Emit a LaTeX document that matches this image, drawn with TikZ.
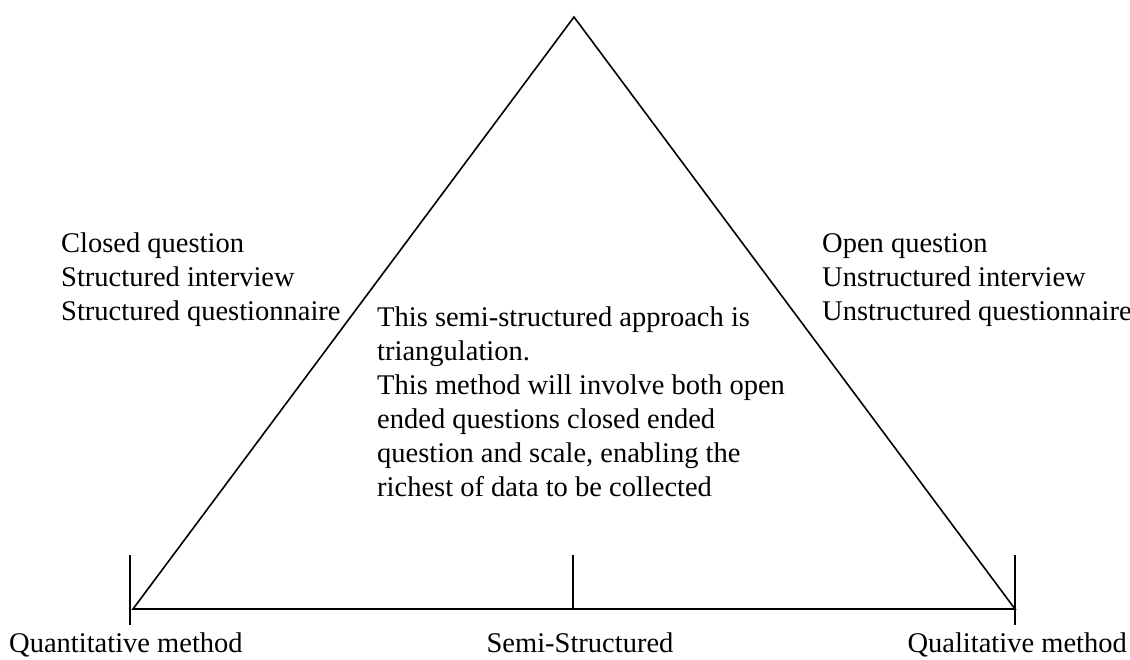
\documentclass[tikz,border=0pt]{standalone}
\usepackage{fontspec}
\setmainfont{Liberation Serif}
\usetikzlibrary{calc}
\tikzset{
  edge/.style={line width=1.6pt, color=black},
  lbl/.style={inner sep=0pt, align=left, font=\fontsize{28.5}{34}\selectfont}
}

\begin{document}
\begin{tikzpicture}[x=1pt, y=-1pt]
			%%%%% START %%%%%
			\useasboundingbox (0, 0) rectangle (1130, 659);
			
			\coordinate (apex) at (574, 17);
			\coordinate (baseL) at (133, 609);
			\coordinate (baseR) at (1015, 609);
			\coordinate (baseM) at (573, 609);
			
			\draw[edge, line join=miter] (apex) -- (baseL) -- (baseR) -- cycle;
			
			\coordinate (tickLtop) at (130, 555);
			\coordinate (tickLbot) at (130, 625);
			\coordinate (tickMtop) at (573, 555);
			\coordinate (tickRtop) at (1015, 555);
			\coordinate (tickRbot) at (1015, 625);
			\draw[edge] (tickLtop) -- (tickLbot);
			\draw[edge] (tickMtop) -- (baseM);
			\draw[edge] (tickRtop) -- (tickRbot);
			
			\node[lbl, anchor=north west] (closed) at (61, 233) {Closed question\\Structured interview\\Structured questionnaire};
			\node[lbl, anchor=north west] (open) at (822, 233) {Open question\\Unstructured interview\\Unstructured questionnaire};
			\node[lbl, anchor=north west] (semitext) at (377, 307) {This semi-structured approach is\\triangulation.\\This method will involve both open\\ended questions closed ended\\question and scale, enabling the\\richest of data to be collected};
			
			\node[lbl, anchor=base west] (quant) at (9, 652) {Quantitative method};
			\node[lbl, anchor=base] (semi) at (580, 652) {Semi-Structured};
			\node[lbl, anchor=base east] (qual) at (1127, 652) {Qualitative method};
			%%%%% END %%%%%
\end{tikzpicture}
\end{document}
